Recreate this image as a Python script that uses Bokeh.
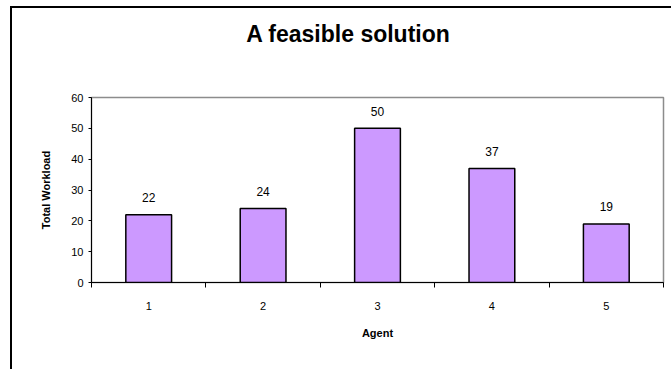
from bokeh.plotting import figure
from bokeh.models import ColumnDataSource, FixedTicker, Range1d, Div
from bokeh.layouts import column
from bokeh.core.properties import value
from bokeh.embed import file_html
from bokeh.resources import INLINE

agents = [1, 2, 3, 4, 5]
workload = [22, 24, 50, 37, 19]
y_ticks = [0, 10, 20, 30, 40, 50, 60]
title_text = "A feasible solution"

FONT = "Liberation Sans"

src = ColumnDataSource(dict(x=agents, y=workload, lbl=[str(v) for v in workload]))

title_div = Div(text=title_text, width=659, height=52, margin=0,
                styles={"font-family": FONT, "font-size": "23px", "font-weight": "bold",
                        "text-align": "center", "line-height": "52px", "color": "#000000",
                        "text-indent": "13px"})

p = figure(width=659, height=309, output_backend="svg", toolbar_location=None,
           x_range=Range1d(0.5, 5.5), y_range=Range1d(0, 60), margin=0,
           min_border_left=79, min_border_right=8, min_border_top=37, min_border_bottom=87)

p.vbar(x="x", top="y", width=0.4, bottom=0, source=src,
       fill_color="#CC99FF", line_color="#000000", line_width=1.5)
p.text(x="x", y="y", text="lbl", source=src, text_align="center", text_baseline="middle",
       y_offset=-17, text_font=value(FONT), text_font_size="12px", text_color="#000000")

p.grid.visible = False
p.background_fill_color = "#FFFFFF"
p.border_fill_color = "#FFFFFF"
p.outline_line_color = "#8c8c8c"
p.outline_line_width = 1.5

xa = p.xaxis[0]
xa.ticker = FixedTicker(ticks=agents, minor_ticks=[0.5, 1.5, 2.5, 3.5, 4.5, 5.5])
xa.major_tick_out = 0
xa.major_tick_in = 0
xa.minor_tick_out = 5
xa.minor_tick_in = 0
xa.minor_tick_line_color = "#000000"
xa.axis_line_color = "#000000"
xa.major_label_standoff = 14
xa.major_label_text_font = FONT
xa.major_label_text_font_size = "11px"
xa.major_label_text_color = "#000000"
xa.axis_label = "Agent"
xa.axis_label_text_font = FONT
xa.axis_label_text_font_size = "11px"
xa.axis_label_text_font_style = "bold"
xa.axis_label_text_color = "#000000"
xa.axis_label_standoff = 14

ya = p.yaxis[0]
ya.ticker = FixedTicker(ticks=y_ticks, minor_ticks=[])
ya.major_tick_out = 3
ya.major_tick_in = 0
ya.axis_line_color = "#000000"
ya.major_label_standoff = 5
ya.major_label_text_font = FONT
ya.major_label_text_font_size = "11px"
ya.major_label_text_color = "#000000"
ya.axis_label = "Total Workload"
ya.axis_label_text_font = FONT
ya.axis_label_text_font_size = "11px"
ya.axis_label_text_font_style = "bold"
ya.axis_label_text_color = "#000000"
ya.axis_label_standoff = 16

layout = column(title_div, p, spacing=0, margin=0)
layout.styles = {"margin-left": "10px", "margin-top": "6px", "background": "#FFFFFF",
                 "border-left": "2px solid #000", "border-top": "2px solid #000"}

open("out.html", "w").write(file_html(layout, INLINE))
